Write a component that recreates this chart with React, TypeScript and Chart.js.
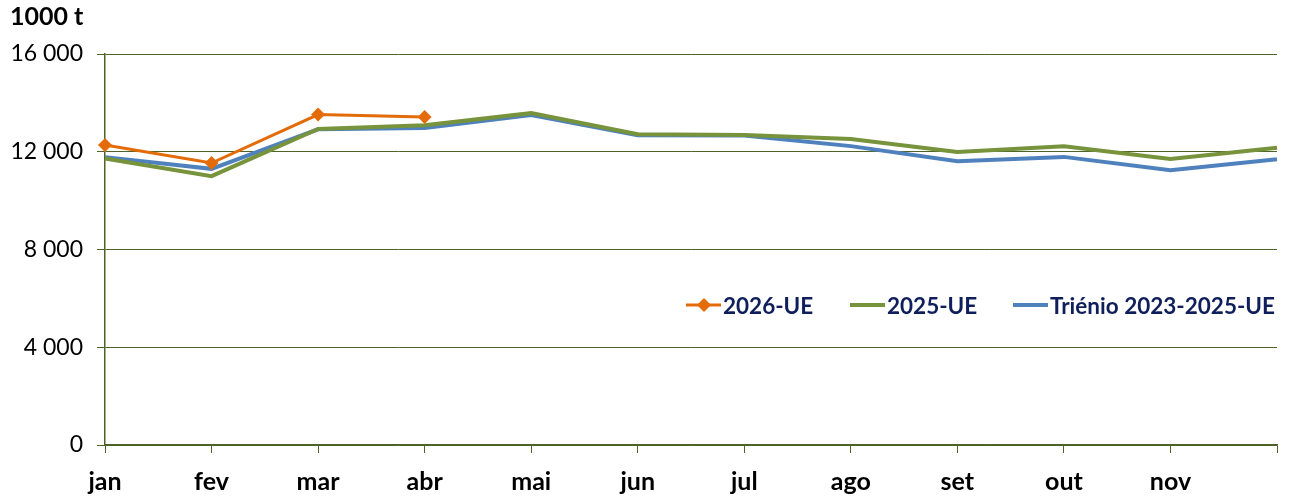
import React, { useEffect, useRef } from 'react';
import { Chart, registerables } from 'chart.js';

Chart.register(...registerables);

const months = ['jan', 'fev', 'mar', 'abr', 'mai', 'jun', 'jul', 'ago', 'set', 'out', 'nov', 'dez'];
const hiddenMonthLabels = ['dez'];
const serie2026 = [12280, 11540, 13520, 13420, null, null, null, null, null, null, null, null];
const serie2025 = [11720, 11000, 12930, 13080, 13580, 12720, 12690, 12520, 11990, 12220, 11700, 12160];
const serieTrienio = [11780, 11300, 12920, 12970, 13500, 12680, 12660, 12230, 11610, 11790, 11240, 11690];
const seriesNames = ['2026-UE', '2025-UE', 'Triénio 2023-2025-UE'];
const seriesColors = ['#E36C09', '#77933C', '#4F81BD'];
const yMin = 0;
const yMax = 16000;
const yStep = 4000;
const unitLabel = '1000 t';

const FONT = 'Lato, "Open Sans", sans-serif';
const OLIVE = '#4F6228';
const NAVY = '#0F1F5C';

function fmt(v: number): string {
  return String(v).replace(/\B(?=(\d{3})+(?!\d))/g, ' ');
}

function LegendItem({ left, color, label, marker }: { left: number; color: string; label: string; marker: boolean }) {
  return (
    <div style={{ position: 'absolute', left, top: 292, height: 26, display: 'flex', alignItems: 'center' }}>
      <svg width={36} height={26} style={{ display: 'block' }}>
        <line x1={0} y1={13} x2={35} y2={13} stroke={color} strokeWidth={marker ? 3 : 4} />
        {marker && <polygon points="18,6 25,13 18,20 11,13" fill={color} />}
      </svg>
      <span style={{ font: `bold 22.5px ${FONT}`, color: NAVY, marginLeft: 1, whiteSpace: 'nowrap' }}>{label}</span>
    </div>
  );
}

export default function App() {
  const ref = useRef<HTMLCanvasElement | null>(null);

  useEffect(() => {
    document.body.style.margin = '0';
    const ctx = ref.current;
    if (!ctx) return;
    const chart = new Chart(ctx, {
      type: 'line',
      data: {
        labels: months,
        datasets: [
          {
            label: seriesNames[0],
            data: serie2026,
            borderColor: seriesColors[0],
            backgroundColor: seriesColors[0],
            borderWidth: 3,
            pointStyle: 'rectRot',
            pointRadius: 7,
            pointBorderWidth: 0,
            tension: 0,
            clip: false,
            spanGaps: false,
          },
          {
            label: seriesNames[1],
            data: serie2025,
            borderColor: seriesColors[1],
            backgroundColor: seriesColors[1],
            borderWidth: 4,
            pointRadius: 0,
            tension: 0,
            clip: false,
          },
          {
            label: seriesNames[2],
            data: serieTrienio,
            borderColor: seriesColors[2],
            backgroundColor: seriesColors[2],
            borderWidth: 4,
            pointRadius: 0,
            tension: 0,
            clip: false,
          },
        ],
      },
      options: {
        responsive: false,
        animation: false,
        layout: { padding: { top: 54, right: 13, left: 0, bottom: 0 } },
        plugins: {
          legend: { display: false },
          tooltip: { enabled: false },
          title: { display: false },
        },
        scales: {
          x: {
            offset: false,
            grid: { drawOnChartArea: false, drawTicks: true, tickLength: 8, color: OLIVE, lineWidth: 1 },
            border: { display: true, color: OLIVE, width: 1.5 },
            ticks: {
              autoSkip: false,
              maxRotation: 0,
              minRotation: 0,
              padding: 14,
              color: '#000',
              font: { family: FONT, size: 25, weight: 'bold' },
              callback: (_v: any, i: number) => (hiddenMonthLabels.includes(months[i]) ? '' : months[i]),
            },
            afterFit: (s: any) => {
              s.height = 54;
            },
          },
          y: {
            min: yMin,
            max: yMax,
            grid: { color: OLIVE, lineWidth: 1, tickLength: 8, drawTicks: true },
            border: { display: true, color: OLIVE, width: 1.5 },
            ticks: {
              stepSize: yStep,
              padding: 14,
              color: '#000',
              font: { family: FONT, size: 23 },
              callback: (v: any) => fmt(Number(v)),
            },
            afterFit: (s: any) => {
              s.width = 105;
            },
          },
        },
      },
    });
    return () => chart.destroy();
  }, []);

  return (
    <div style={{ position: 'relative', width: 1291, height: 499, background: '#fff' }}>
      <canvas ref={ref} width={1291} height={499} style={{ display: 'block' }} />
      <div style={{ position: 'absolute', left: 10, top: 0, font: `bold 25px ${FONT}`, color: '#000' }}>{unitLabel}</div>
      <LegendItem left={686} color={seriesColors[0]} label={seriesNames[0]} marker={true} />
      <LegendItem left={850} color={seriesColors[1]} label={seriesNames[1]} marker={false} />
      <LegendItem left={1013} color={seriesColors[2]} label={seriesNames[2]} marker={false} />
    </div>
  );
}
